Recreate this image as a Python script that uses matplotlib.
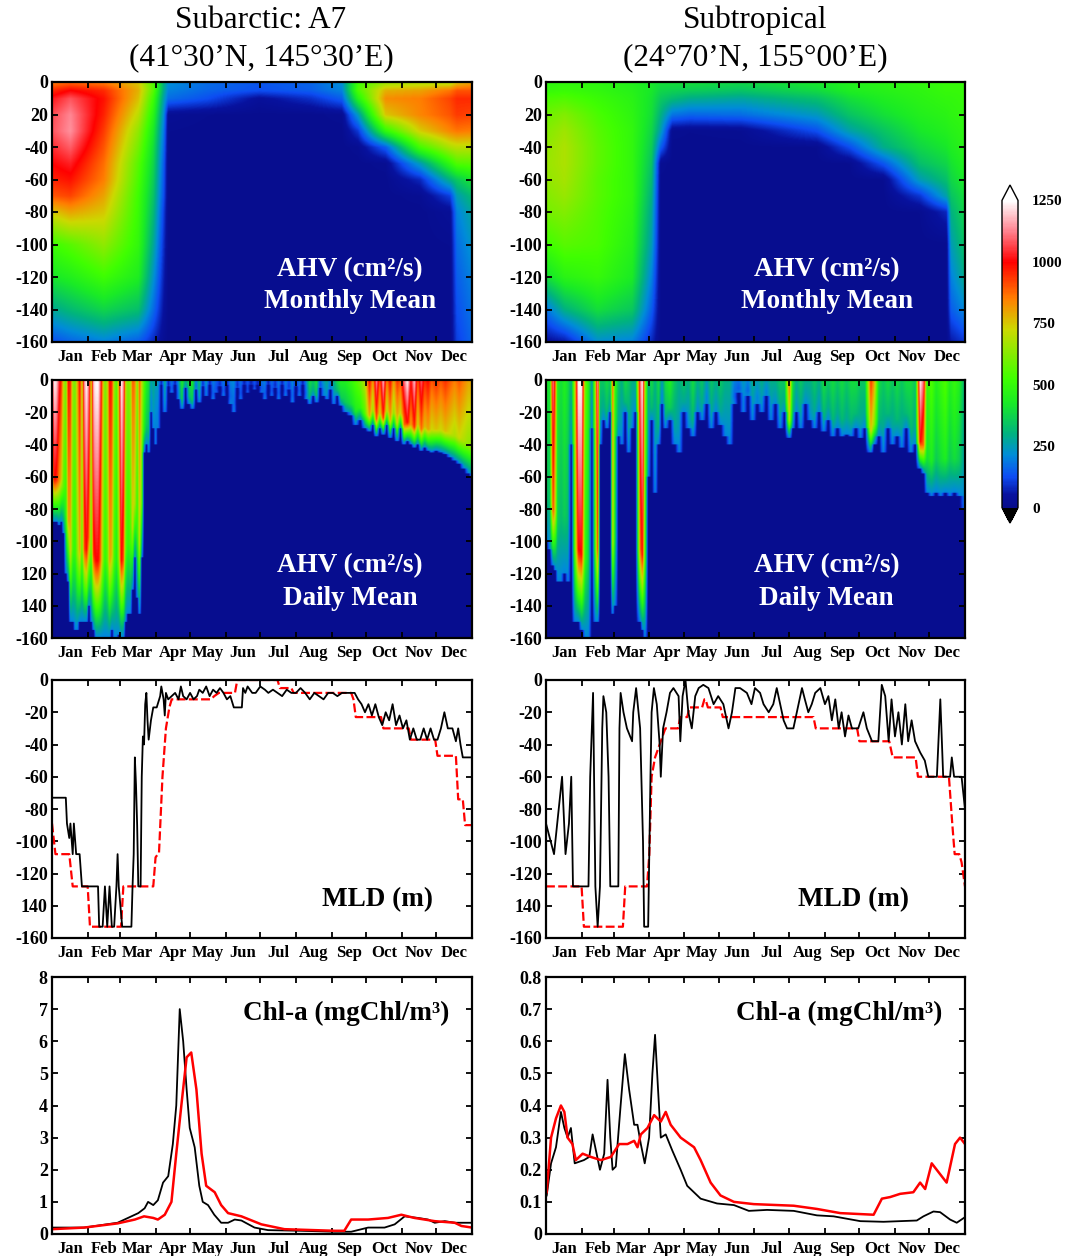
import numpy as np
import matplotlib
matplotlib.use('Agg')
import matplotlib.pyplot as plt
from matplotlib.colors import LinearSegmentedColormap

plt.rcParams['font.family'] = ['Liberation Serif', 'DejaVu Serif']
plt.rcParams['font.weight'] = 'bold'

# ---------------- data ----------------
months = ['Jan', 'Feb', 'Mar', 'Apr', 'May', 'Jun', 'Jul', 'Aug', 'Sep', 'Oct', 'Nov', 'Dec']
month_edges = [0, 31, 59, 90, 120, 151, 181, 212, 243, 273, 304, 334, 365]

# monthly mean AHV (cm2/s): rows = time nodes (day), cols = depth nodes (m)
node_depths = [0, 5, 10, 20, 30, 40, 50, 60, 70, 80, 100, 120, 140, 160]

sa_month_days = [0, 16, 45, 75, 88, 97, 101, 135, 180, 225, 252, 266, 290, 320, 346, 352, 365]
sa_month_ahv = [
    [850, 950, 1020, 1070, 1080, 1040, 1000, 960, 900, 750, 520, 420, 280, 130],
    [880, 1000, 1080, 1130, 1140, 1090, 1030, 980, 920, 800, 560, 450, 320, 160],
    [850, 950, 980, 960, 930, 900, 870, 850, 800, 750, 640, 520, 380, 200],
    [750, 780, 760, 700, 640, 600, 560, 540, 520, 510, 490, 440, 330, 150],
    [550, 560, 520, 470, 430, 400, 380, 360, 340, 320, 280, 230, 170, 80],
    [300, 290, 260, 220, 190, 170, 150, 140, 130, 110, 90, 70, 50, 25],
    [220, 200, 170, 25, 15, 12, 10, 10, 10, 10, 10, 10, 10, 10],
    [170, 160, 130, 15, 10, 10, 10, 10, 10, 10, 10, 10, 10, 10],
    [140, 130, 40, 10, 10, 10, 10, 10, 10, 10, 10, 10, 10, 10],
    [160, 150, 90, 10, 10, 10, 10, 10, 10, 10, 10, 10, 10, 10],
    [220, 200, 150, 20, 10, 10, 10, 10, 10, 10, 10, 10, 10, 10],
    [520, 540, 460, 240, 100, 20, 10, 10, 10, 10, 10, 10, 10, 10],
    [650, 780, 830, 750, 490, 150, 20, 10, 10, 10, 10, 10, 10, 10],
    [680, 800, 850, 840, 740, 530, 250, 80, 20, 10, 10, 10, 10, 10],
    [680, 860, 920, 900, 840, 680, 490, 300, 110, 30, 15, 10, 10, 10],
    [750, 900, 950, 930, 860, 700, 550, 350, 250, 200, 170, 150, 130, 110],
    [800, 900, 950, 920, 850, 700, 560, 420, 320, 270, 230, 200, 180, 160],
]

st_month_days = [0, 16, 45, 75, 92, 100, 110, 125, 170, 236, 265, 294, 326, 349, 353, 365]
st_month_ahv = [
    [480, 500, 540, 590, 620, 640, 650, 640, 620, 600, 520, 400, 180, 40],
    [490, 510, 550, 620, 660, 680, 680, 670, 650, 620, 560, 470, 300, 60],
    [480, 490, 510, 540, 560, 570, 570, 560, 560, 550, 540, 500, 400, 220],
    [450, 460, 470, 480, 490, 490, 490, 490, 490, 480, 460, 430, 350, 200],
    [420, 420, 410, 400, 380, 360, 340, 320, 300, 280, 250, 200, 150, 80],
    [400, 380, 350, 300, 250, 150, 20, 12, 10, 10, 10, 10, 10, 10],
    [400, 370, 320, 180, 20, 10, 10, 10, 10, 10, 10, 10, 10, 10],
    [400, 360, 290, 160, 15, 10, 10, 10, 10, 10, 10, 10, 10, 10],
    [380, 340, 270, 170, 20, 10, 10, 10, 10, 10, 10, 10, 10, 10],
    [420, 390, 330, 240, 130, 15, 10, 10, 10, 10, 10, 10, 10, 10],
    [450, 440, 400, 340, 260, 130, 15, 10, 10, 10, 10, 10, 10, 10],
    [470, 460, 440, 400, 340, 290, 140, 15, 10, 10, 10, 10, 10, 10],
    [490, 480, 470, 450, 420, 380, 330, 250, 100, 15, 10, 10, 10, 10],
    [500, 500, 490, 470, 450, 420, 380, 330, 260, 80, 10, 10, 10, 10],
    [500, 500, 490, 480, 460, 440, 410, 380, 340, 300, 250, 200, 150, 60],
    [500, 500, 500, 490, 480, 470, 450, 430, 400, 380, 340, 290, 210, 100],
]

# daily mean AHV: day, depth reached by the mixing (m), surface AHV
sa_daily_day = [0, 2, 4, 6, 8, 10, 12, 14, 16, 18, 20, 22, 24, 26, 28, 30, 32, 34, 36, 38,
                40, 42, 44, 46, 48, 50, 52, 54, 56, 58, 60, 62, 64, 66, 68, 70, 72, 74, 76, 78,
                80, 82, 84, 86, 88, 90,
                92, 95, 98, 101, 104, 107, 110, 113, 116, 119, 122, 125, 128, 131, 134, 137,
                140, 143, 146, 149, 152, 155, 158, 161, 164, 167, 170, 173, 176, 179, 182, 185,
                188, 191, 194, 197, 200, 203, 206, 209, 212, 215, 218, 221, 224, 227, 230, 233,
                236, 239, 242, 245, 248, 251,
                255, 260, 264, 268, 272, 276, 279, 282, 285, 288, 291, 294, 297, 300, 303, 306,
                309, 312, 315, 318, 321, 324, 327, 330, 334, 338, 342, 346, 350, 354, 358, 362,
                365]
sa_daily_depth = [88, 88, 88, 90, 88, 95, 120, 125, 150, 150, 155, 155, 150, 150, 150, 150, 140,
                  150, 155, 160, 160, 160, 160, 160, 160, 160, 155, 160, 160, 158, 160, 160, 150,
                  145, 145, 130, 110, 135, 145, 110, 45, 40, 45, 20, 30, 40,
                  30, 3, 20, 4, 8, 3, 12, 18, 5, 15, 18, 6, 14, 4, 10, 3,
                  12, 8, 4, 10, 3, 15, 20, 5, 12, 3, 8, 3, 6, 3, 8, 12,
                  3, 10, 5, 12, 3, 10, 6, 14, 4, 10, 3, 12, 15, 10, 14, 5,
                  10, 12, 6, 15, 10, 16,
                  20, 22, 28, 25, 30, 32, 28, 35, 30, 34, 28, 36, 30, 38, 30, 40,
                  38, 40, 42, 40, 44, 42, 44, 45, 44, 45, 46, 48, 50, 52, 55, 58,
                  60]
sa_daily_peak = [1000, 1250, 1200, 1050, 950, 700, 600, 1000, 950, 650, 600, 800, 1000, 700,
                 1150, 1250, 1100, 700, 1200, 1250, 1250, 1100, 800, 600, 700, 1000, 950, 650,
                 550, 800, 1250, 1150, 700, 600, 650, 900, 850, 600, 900, 700, 550, 450, 400,
                 250, 300, 250,
                 250, 80, 300, 80, 200, 80, 250, 450, 300, 400, 450, 200, 350, 100, 250, 80,
                 200, 150, 100, 200, 80, 200, 220, 100, 180, 80, 150, 80, 150, 80, 180, 200,
                 80, 180, 100, 200, 80, 200, 120, 220, 100, 200, 80, 220, 400, 350, 420, 150,
                 250, 300, 200, 300, 400, 450,
                 450, 500, 550, 600, 700, 1000, 800, 1150, 900, 1200, 850, 1000, 800, 950, 900,
                 1100, 1250, 1000, 1200, 900, 1100, 950, 1000, 900, 950, 900, 950, 900, 850, 900,
                 850, 800, 800]

st_daily_day = [0, 3, 6, 8, 10, 13, 16, 19, 22, 25, 28, 31, 34, 37, 40, 43, 45, 47, 50, 53, 56,
                58, 60, 63, 66, 69, 72, 75, 78, 82, 84, 86, 89,
                92, 95, 98, 101, 104, 108, 112, 116, 120, 124,
                128, 132, 136, 140, 144, 148, 152, 156, 160, 164, 168, 172, 176, 180, 184, 188,
                192, 196, 200, 204, 208, 212, 215, 218, 222, 226, 230, 234, 238, 242, 246, 250,
                254, 258, 262, 266, 270, 274, 278, 283, 286, 290, 294, 298, 302, 306, 310, 314,
                318, 322, 326, 329, 332, 336, 340, 344, 348, 352, 356, 360, 365]
st_daily_depth = [100, 105, 115, 118, 125, 125, 120, 125, 40, 150, 150, 155, 160, 160, 30, 150,
                  150, 40, 25, 30, 20, 145, 140, 35, 40, 20, 45, 30, 20, 150, 155, 160, 60,
                  25, 70, 40, 15, 30, 25,
                  40, 45, 20, 30, 35, 20, 25, 15, 30, 20, 28, 35, 40, 15, 8, 20, 10, 25, 15, 20,
                  10, 25, 15, 30, 20, 36, 30, 20, 30, 15, 25, 30, 20, 32, 25, 35, 30, 35, 34, 35,
                  30, 36, 30, 45, 40, 35, 45, 30, 40, 35, 42, 30, 45, 40, 55, 58, 70, 72, 70, 72,
                  70, 72, 70, 72, 80]
st_daily_peak = [450, 400, 1150, 900, 450, 400, 450, 400, 300, 700, 1250, 1250, 600, 450, 250,
                 700, 1200, 350, 350, 400, 350, 900, 500, 350, 300, 400, 350, 300, 300, 1100,
                 1250, 700, 300,
                 400, 300, 400, 250, 400, 450,
                 350, 300, 350, 300, 400, 300, 350, 250, 350, 300, 350, 300,
                 300, 200, 180, 250, 200, 300, 250, 300, 250, 300, 300, 350, 350, 900, 400, 300,
                 350, 300, 300, 350, 300, 400, 350, 400, 350, 400, 350, 400, 400, 350, 350, 950,
                 800, 400, 350, 400, 350, 400, 350, 400, 400, 350, 1250, 1100, 500, 550, 450, 500,
                 550, 450, 500, 450, 300]

# mixed layer depth (m): daily (black) and monthly (red dashed)
sa_mld_day = [0, 12, 13, 15, 16, 18, 19, 21, 24, 26, 27, 40, 41, 44, 46, 48, 50, 52, 54, 56, 57, 58,
              61, 69, 70, 71, 72, 73, 74, 75, 77, 78, 79, 80, 81, 82, 83, 84, 86, 88, 91, 94, 95,
              97, 98, 99, 101, 104, 107, 110, 112, 114, 117, 120, 123, 126, 128, 131, 134, 137,
              140, 143, 146, 149, 152, 155, 158, 165, 166, 168, 170, 174, 177, 181, 185, 188, 192,
              196, 200, 204, 208, 212, 216, 220, 224, 228, 232, 236, 240, 244, 248, 252, 256, 260,
              263, 266, 269, 272, 275, 278, 281, 284, 287, 290, 293, 296, 299, 302, 305, 308, 311,
              314, 317, 320, 323, 326, 329, 332, 335, 338, 341, 344, 346, 348, 351, 353, 355, 357,
              358, 365]
sa_mld_black = [-73, -73, -89, -98, -89, -108, -89, -108, -108, -128, -128, -128, -153, -153, -128,
                -153, -128, -153, -153, -128, -108, -128, -153, -153, -128, -108, -48, -65, -90,
                -128, -128, -60, -35, -40, -15, -8, -25, -37, -25, -17, -17, -10, -4, -12, -22,
                -8, -12, -10, -8, -12, -4, -10, -12, -8, -12, -10, -6, -8, -4, -10, -6, -8, -5, -8,
                -12, -10, -17, -17, -5, -8, -4, -8, -8, -4, -6, -8, -6, -8, -10, -6, -8, -8, -5,
                -8, -12, -8, -10, -12, -8, -8, -10, -8, -8, -8, -8, -12, -15, -20, -15, -22, -15,
                -23, -28, -20, -25, -15, -28, -22, -30, -25, -37, -30, -37, -37, -30, -37, -30,
                -37, -37, -30, -20, -30, -30, -30, -38, -30, -40, -48, -48, -48]
sa_mld_red_day = [0, 3, 15, 18, 31, 33, 60, 62, 88, 90, 93, 96, 99, 102, 104, 138, 141, 145, 159,
                  161, 196, 198, 208, 210, 260, 262, 264, 286, 288, 310, 312, 333, 335, 351, 353,
                  357, 359, 365]
sa_mld_red = [-89, -108, -108, -128, -128, -153, -153, -128, -128, -110, -107, -60, -30, -17,
              -12, -12, -10, -8, -8, 0, 0, -5, -5, -8, -8, -12, -23, -23, -30, -30, -37, -37,
              -47, -47, -74, -74, -90, -90]

st_mld_day = [0, 7, 14, 17, 20, 22, 23.5, 37, 38.5, 41, 43, 45, 47, 49, 50, 52.5, 54.5, 56, 63,
              64, 65, 67.5, 70.5, 75, 76, 78.5, 82, 84.5, 85.5, 89, 91, 92, 94, 96.5, 99, 100,
              102, 105, 108, 111, 115.5, 117, 119, 121.5, 124, 127, 130, 133, 137, 141.5, 146,
              150, 154.5, 159, 162, 165, 169, 175, 179, 182, 186.5, 189.5, 194, 198, 201, 204,
              207, 210, 215.5, 218.5, 223, 225.5, 228.5, 231.5, 234.5, 239, 243, 246, 249, 252,
              255, 257.5, 260.5, 263.5, 266.5, 272, 276.5, 279.5, 284, 289.5, 292.5, 295.5,
              298.5, 301, 304, 307, 310, 313, 315.5, 318.5, 321.5, 326, 330, 333, 340.5, 343.5,
              346, 352, 353.5, 355.5, 362, 365]
st_mld_black = [-89, -108, -60, -108, -89, -60, -128, -128, -60, -8, -128, -153, -128, -30, -10,
                -20, -60, -128, -128, -30, -8, -20, -30, -38, -20, -5, -30, -100, -153, -153, -60,
                -20, -5, -15, -40, -60, -30, -20, -8, -5, -10, -38, -10, 0, -20, -30, -10, -5, -3,
                -5, -15, -10, -15, -30, -20, -5, -5, -8, -15, -5, -8, -15, -20, -15, -5, -15, -25,
                -30, -30, -20, -5, -12, -20, -15, -8, -5, -15, -10, -25, -12, -30, -20, -35, -22,
                -30, -30, -20, -30, -38, -38, -3, -10, -38, -12, -35, -20, -40, -15, -38, -25, -38,
                -45, -50, -60, -60, -12, -60, -60, -48, -60, -60, -80]
st_mld_red_day = [0, 31, 33, 67, 69, 88, 90, 92, 95, 99, 104, 115, 117, 123, 125, 136, 138, 139,
                  141, 152, 154, 233, 235, 271, 273, 299, 302, 322, 324, 351, 354, 356, 360, 362,
                  365]
st_mld_red = [-128, -128, -153, -153, -128, -128, -108, -60, -48, -40, -30, -30, -23, -23, -17,
              -17, -12, -12, -17, -17, -23, -23, -30, -30, -38, -38, -48, -48, -60, -60, -90,
              -108, -108, -113, -128]

# chlorophyll-a (mgChl/m3): black and red curves
sa_chl_black_day = [0, 28, 57, 69, 75, 80.5, 83.5, 88, 92, 96.5, 101, 105, 108, 111, 114, 117,
                    119.7, 124, 128, 131, 135.6, 141, 147, 153, 158.8, 164.6, 176, 187.8, 216.7,
                    245.7, 260, 274.7, 289, 297.8, 306.5, 318, 326.8, 332.6, 341.3, 350, 365]
sa_chl_black = [0.2, 0.2, 0.35, 0.55, 0.65, 0.8, 1.0, 0.9, 1.05, 1.6, 1.8, 2.8, 4.0, 7.0, 6.0,
                4.5, 3.3, 2.7, 1.5, 1.0, 0.9, 0.6, 0.35, 0.35, 0.45, 0.42, 0.2, 0.12, 0.1, 0.07,
                0.07, 0.2, 0.2, 0.3, 0.55, 0.5, 0.45, 0.35, 0.4, 0.35, 0.35]
sa_chl_red_day = [0, 28, 57, 72, 80, 88, 92, 98, 103.8, 108, 112.4, 117, 121, 125.5, 130, 134,
                  141.4, 147, 153, 164.6, 182, 202, 245.7, 254, 260, 274.7, 292, 303.6, 315,
                  332.6, 350, 355.8, 365]
sa_chl_red = [0.15, 0.2, 0.33, 0.45, 0.55, 0.5, 0.45, 0.6, 1.0, 2.5, 4.0, 5.5, 5.65, 4.5, 2.5,
              1.5, 1.3, 0.9, 0.65, 0.55, 0.3, 0.15, 0.1, 0.1, 0.45, 0.45, 0.5, 0.6, 0.5, 0.4,
              0.35, 0.25, 0.2]

st_chl_black_day = [0.6, 4.4, 8.7, 13, 16, 18.8, 21.7, 25, 33, 37.7, 40.6, 43.5, 47, 50.7, 53.6,
                    56, 58, 60.8, 65, 68.7, 72.4, 76.8, 79.7, 82.6, 86, 89.8, 92.7, 95, 97.6, 100,
                    104.3, 110, 117.3, 123, 134.7, 149, 163.7, 176.7, 192.6, 215.8, 236, 250.5,
                    273.8, 294, 323, 328.8, 337.5, 343.3, 352, 357.8, 364]
st_chl_black = [0.12, 0.22, 0.27, 0.38, 0.33, 0.3, 0.33, 0.22, 0.23, 0.24, 0.31, 0.26, 0.2, 0.25,
                0.48, 0.3, 0.2, 0.21, 0.4, 0.56, 0.45, 0.34, 0.34, 0.28, 0.22, 0.3, 0.5, 0.62,
                0.45, 0.3, 0.31, 0.26, 0.2, 0.15, 0.11, 0.095, 0.09, 0.072, 0.075, 0.072, 0.058,
                0.055, 0.04, 0.038, 0.042, 0.055, 0.07, 0.068, 0.045, 0.035, 0.05]
st_chl_red_day = [0.6, 4.4, 8.7, 13, 16, 18.8, 23, 26, 31.9, 39, 47.8, 56.5, 63.7, 71, 76.8, 79.7,
                  82.6, 88.4, 94.2, 100, 104.3, 108.6, 117.3, 129, 134.7, 143.4, 152, 163.7, 181,
                  215.8, 236, 256.4, 285.4, 292.6, 299.8, 308.5, 320, 325.9, 330.3, 336, 349,
                  356.3, 360.7, 365]
st_chl_red = [0.13, 0.3, 0.36, 0.4, 0.38, 0.3, 0.28, 0.23, 0.25, 0.24, 0.23, 0.24, 0.28, 0.28,
              0.29, 0.27, 0.31, 0.33, 0.37, 0.35, 0.38, 0.34, 0.3, 0.27, 0.23, 0.16, 0.12, 0.1,
              0.093, 0.088, 0.078, 0.065, 0.06, 0.11, 0.115, 0.125, 0.13, 0.16, 0.14, 0.22, 0.16,
              0.28, 0.3, 0.28]

# ---------------- colormap ----------------
ahv_cmap = LinearSegmentedColormap.from_list('ahv', [
    (0.00, (0.03, 0.05, 0.55)),
    (0.04, (0.03, 0.07, 0.62)),
    (0.10, (0.05, 0.30, 0.95)),
    (0.17, (0.00, 0.55, 0.85)),
    (0.24, (0.00, 0.70, 0.50)),
    (0.34, (0.10, 0.92, 0.15)),
    (0.42, (0.25, 1.00, 0.00)),
    (0.58, (0.80, 0.85, 0.00)),
    (0.68, (1.00, 0.50, 0.00)),
    (0.80, (1.00, 0.00, 0.00)),
    (0.90, (1.00, 0.50, 0.55)),
    (1.00, (1.00, 1.00, 1.00)),
])
ahv_cmap.set_under('black')
ahv_cmap.set_over('white')

zz = np.linspace(0, 160, 321)
tt = np.linspace(0, 365, 1461)


def table_field(days, table):
    tab = np.array(table, float)
    prof = np.array([np.interp(zz, node_depths, row) for row in tab])
    return np.array([np.interp(tt, days, prof[:, k]) for k in range(len(zz))])


def daily_field(days, depth, peak):
    # each day: AHV fades from its surface value towards the bottom of the mixed layer
    prof = []
    for d, p in zip(depth, peak):
        prof.append(np.interp(zz, [0, 0.7 * d, d, d + 0.5], [p, 0.8 * p, min(p, 200), 10]))
    prof = np.array(prof)
    return np.array([np.interp(tt, days, prof[:, k]) for k in range(len(zz))])


# ---------------- figure ----------------
fig = plt.figure(figsize=(10.65, 12.56), dpi=100)

col_x = [52 / 1065, 546 / 1065]
col_w = [420 / 1065, 419 / 1065]
rows = [(82, 342), (380, 638), (680, 938), (977, 1234)]


def make_ax(r, c):
    top, bot = rows[r]
    return fig.add_axes([col_x[c], 1 - bot / 1256, col_w[c], (bot - top) / 1256])


mids = [(a + b) / 2 for a, b in zip(month_edges[:-1], month_edges[1:])]


def style(ax, ylim, yticks, ylabels):
    ax.set_xlim(0, 365)
    ax.set_ylim(*ylim)
    ax.set_xticks(month_edges)
    ax.set_xticklabels([])
    ax.set_xticks(mids, minor=True)
    ax.set_xticklabels(months, minor=True, fontsize=12, fontweight='bold')
    ax.tick_params(which='major', direction='in', length=4, width=1.3, top=True, right=True)
    ax.tick_params(which='minor', length=0, pad=5)
    ax.tick_params(axis='y', pad=3)
    ax.set_yticks(yticks)
    ax.set_yticklabels(ylabels, fontsize=13, fontweight='bold')
    for s in ax.spines.values():
        s.set_linewidth(1.6)


depth_ticks = [0, -20, -40, -60, -80, -100, -120, -140, -160]
lab_std = ['0', '-20', '-40', '-60', '-80', '-100', '-120', '-140', '-160']
lab_r1 = ['0', '20', '-40', '-60', '-80', '-100', '-120', '-140', '-160']
lab_r2l = ['0', '-20', '-40', '-60', '-80', '-100', '120', '140', '-160']
lab_r3 = ['0', '-20', '-40', '-60', '-80', '-100', '-120', '140', '-160']

fields = [
    (0, 0, table_field(sa_month_days, sa_month_ahv), lab_r1, 'Monthly Mean', 0.71),
    (0, 1, table_field(st_month_days, st_month_ahv), lab_r1, 'Monthly Mean', 0.67),
    (1, 0, daily_field(sa_daily_day, sa_daily_depth, sa_daily_peak), lab_r2l, 'Daily Mean', 0.71),
    (1, 1, daily_field(st_daily_day, st_daily_depth, st_daily_peak), lab_std, 'Daily Mean', 0.67),
]
for r, c, fld, labs, kind, tx in fields:
    ax = make_ax(r, c)
    im = ax.imshow(fld, extent=[0, 365, -160, 0], origin='upper', aspect='auto',
                   cmap=ahv_cmap, vmin=0, vmax=1250, interpolation='bilinear')
    style(ax, (-160, 0), depth_ticks, labs)
    ax.text(tx, 0.28, 'AHV (cm²/s)', transform=ax.transAxes, ha='center', va='center',
            color='white', fontsize=19.5, fontweight='bold')
    ax.text(tx, 0.155, kind, transform=ax.transAxes, ha='center', va='center',
            color='white', fontsize=19.5, fontweight='bold')

# MLD panels
mld_sets = [
    (0, sa_mld_day, sa_mld_black, sa_mld_red_day, sa_mld_red, 0.776),
    (1, st_mld_day, st_mld_black, st_mld_red_day, st_mld_red, 0.733),
]
for c, bd, bv, rd, rv, tx in mld_sets:
    ax = make_ax(2, c)
    ax.plot(rd, rv, color='red', lw=1.6, ls=(0, (4, 1.5)), zorder=2)
    ax.plot(bd, bv, color='black', lw=1.3, zorder=3)
    style(ax, (-160, 0), depth_ticks, lab_r3)
    ax.text(tx, 0.147, 'MLD (m)', transform=ax.transAxes, ha='center', va='center',
            color='black', fontsize=19.5, fontweight='bold')

# Chl-a panels
ax = make_ax(3, 0)
ax.plot(sa_chl_black_day, sa_chl_black, color='black', lw=1.3)
ax.plot(sa_chl_red_day, sa_chl_red, color='red', lw=1.8)
style(ax, (0, 8), list(range(9)), [str(v) for v in range(9)])
ax.text(0.70, 0.86, 'Chl-a (mgChl/m³)', transform=ax.transAxes, ha='center', va='center',
        fontsize=19.5, fontweight='bold')

ax = make_ax(3, 1)
ax.plot(st_chl_black_day, st_chl_black, color='black', lw=1.3)
ax.plot(st_chl_red_day, st_chl_red, color='red', lw=1.8)
chl_ticks = [0, 0.1, 0.2, 0.3, 0.4, 0.5, 0.6, 0.7, 0.8]
style(ax, (0, 0.8), chl_ticks, ['0'] + ['%.1f' % v for v in chl_ticks[1:]])
ax.text(0.70, 0.86, 'Chl-a (mgChl/m³)', transform=ax.transAxes, ha='center', va='center',
        fontsize=19.5, fontweight='bold')

# colorbar
cax = fig.add_axes([1002 / 1065, 1 - 523 / 1256, 16 / 1065, 338 / 1256])
cb = fig.colorbar(im, cax=cax, extend='both', ticks=[0, 250, 500, 750, 1000, 1250])
cb.ax.tick_params(length=0, pad=10, labelsize=11)
for t in cb.ax.get_yticklabels():
    t.set_fontweight('bold')
cb.outline.set_linewidth(1.0)

# titles
fig.text(261 / 1065, 1 - 20 / 1256, 'Subarctic: A7', ha='center', va='center',
         fontsize=22.5, fontweight='normal')
fig.text(261 / 1065, 1 - 58 / 1256, '(41°30’N, 145°30’E)', ha='center', va='center',
         fontsize=22.5, fontweight='normal')
fig.text(755 / 1065, 1 - 20 / 1256, 'Subtropical', ha='center', va='center',
         fontsize=22.5, fontweight='normal')
fig.text(755 / 1065, 1 - 58 / 1256, '(24°70’N, 155°00’E)', ha='center', va='center',
         fontsize=22.5, fontweight='normal')

fig.savefig('out.png', dpi=100)
